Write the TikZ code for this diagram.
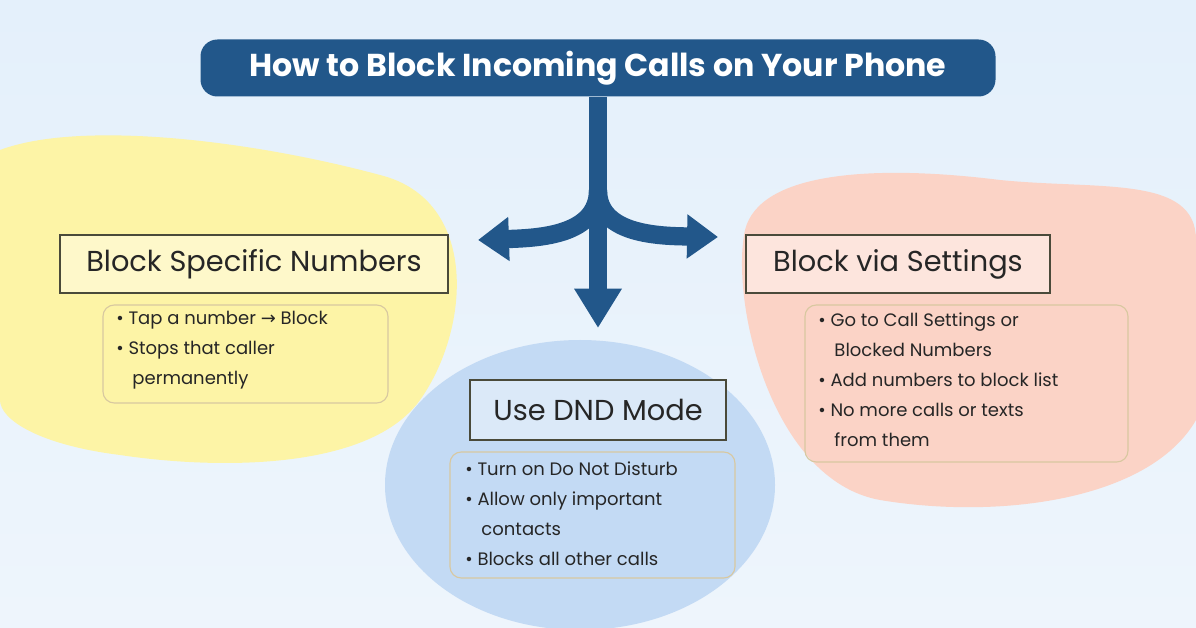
\documentclass[tikz,border=0pt]{standalone}
\usepackage{fontspec}
\setmainfont{Poppins}
\newfontfamily\dv{DejaVu Sans}
\usetikzlibrary{arrows.meta}
\definecolor{bgtop}{HTML}{E4F0FB}
\definecolor{bgbot}{HTML}{EEF5FC}
\definecolor{navy}{HTML}{22578A}
\definecolor{yel}{HTML}{FDF4A6}
\definecolor{pnk}{HTML}{FBD3C6}
\definecolor{blu}{HTML}{C3DAF4}
\definecolor{edge}{HTML}{4A4A3A}
\definecolor{tan}{HTML}{D8C8A0}
\tikzset{
 head/.style={draw=edge,line width=1.2pt,inner sep=0pt,font=\fontsize{20.5}{22}\selectfont,text=black!85},
 list/.style={font=\fontsize{12.8}{21.3}\selectfont,align=left,anchor=north west,inner sep=0pt,text=black!85},
 frame/.style={draw=tan,line width=0.8pt,rounded corners=8pt},
 flow/.style={navy,line width=13pt}
}
\begin{document}
\begin{tikzpicture}[x=0.025cm,y=-0.025cm]
\useasboundingbox (0,0) rectangle (1196,628);
\shade[top color=bgtop,bottom color=bgbot] (0,0) rectangle (1196,628);
% blobs
\fill[yel] (0,150) .. controls (80,120) and (250,140) .. (380,175) .. controls (480,200) and (470,330) .. (420,400) .. controls (370,470) and (220,470) .. (120,455) .. controls (40,445) and (0,420) .. (0,400) -- cycle;
\fill[pnk] (745,230) .. controls (760,170) and (880,165) .. (1000,180) .. controls (1100,190) and (1196,175) .. (1196,240) -- (1196,420) .. controls (1150,500) and (1000,520) .. (880,500) .. controls (770,480) and (730,300) .. (745,230) -- cycle;
\fill[blu] (580,485) ellipse [x radius=195, y radius=145];
% title
\node[fill=navy,rounded corners=12pt,minimum width=795*0.025cm,minimum height=57*0.025cm,text=white,font=\fontsize{22.5}{24}\selectfont\bfseries] (t) at (598,68) {How to Block Incoming Calls on Your Phone};
% arrows
\coordinate (s) at (598,97);
\coordinate (j) at (598,190);
\coordinate (dn) at (598,328);
\coordinate (lf) at (478,240);
\coordinate (rt) at (718,237);
\draw[flow,-{Triangle[length=28pt,width=32pt]}] (s) -- (dn);
\draw[flow,-{Triangle[length=22pt,width=30pt]}] (j) .. controls (598,235) and (540,238) .. (lf);
\draw[flow,-{Triangle[length=22pt,width=30pt]}] (j) .. controls (598,235) and (660,236) .. (rt);
% headings
\node[head,fill=yel!60,minimum width=388*0.025cm,minimum height=58*0.025cm] (h1) at (254,264) {Block Specific Numbers};
\node[head,fill=pnk!60,minimum width=304*0.025cm,minimum height=58*0.025cm] (h2) at (898,264) {Block via Settings};
\node[head,fill=blu!60,minimum width=256*0.025cm,minimum height=60*0.025cm] (h3) at (598,410) {Use DND Mode};
% lists
\draw[frame] (103,305) rectangle (388,403);
\node[list] (l1) at (116,311) {• Tap a number {\dv →} Block\\• Stops that caller\\\hspace*{0.9em}permanently};
\draw[frame] (805,305) rectangle (1128,462);
\node[list] (l2) at (818,313) {• Go to Call Settings or\\\hspace*{0.9em}Blocked Numbers\\• Add numbers to block list\\• No more calls or texts\\\hspace*{0.9em}from them};
\draw[frame] (450,452) rectangle (735,578);
\node[list] (l3) at (465,462) {• Turn on Do Not Disturb\\• Allow only important\\\hspace*{0.9em}contacts\\• Blocks all other calls};
\end{tikzpicture}
\end{document}
